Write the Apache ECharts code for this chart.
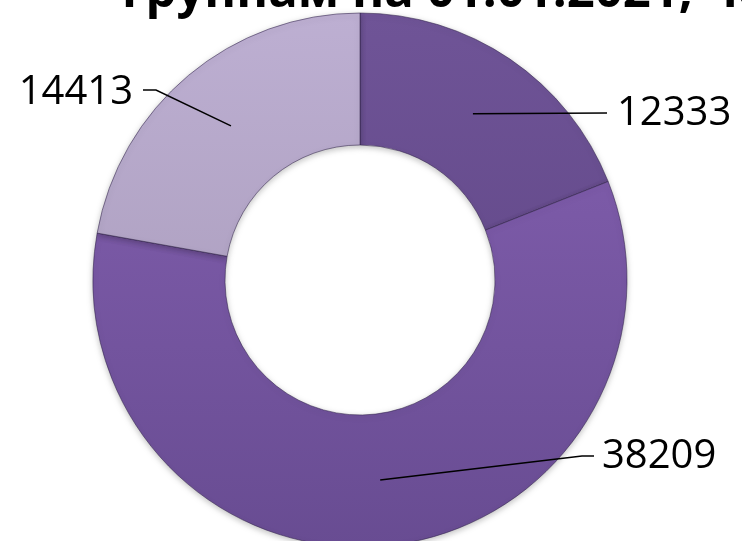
<!DOCTYPE html>
<html>
<head>
<meta charset="utf-8">
<script src="https://cdn.jsdelivr.net/npm/echarts@6/dist/echarts.min.js"></script>
<style>
  html, body { margin: 0; padding: 0; background: #fff; }
  #chart { width: 742px; height: 541px; }
</style>
</head>
<body>
<div id="chart"></div>
<script>
// data
const categories = ['Группа 1', 'Группа 2', 'Группа 3'];
const values = [12333, 38209, 14413];
const titleText = 'группам на 01.01.2021, чел.';

// colours (top -> bottom shading)
const colorsTop = ['#6f5497', '#8561b2', '#bdafd2'];
const colorsBottom = ['#5b4281', '#684c92', '#a396b4'];

const center = [360, 280];
const radii = [135, 267];

// where the labels sit (Excel placed them by hand) + leader line bends
const labelPlaces = [
  { x: 617, y: 114, align: 'left', bend: [607, 113], end: [607, 113] },
  { x: 602, y: 457, align: 'left', bend: [582, 456], end: [594, 456] },
  { x: 133, y: 93, align: 'right', bend: [156, 90], end: [143, 90] }
];

const chart = echarts.init(document.getElementById('chart'));

const grad = (i) => ({
  type: 'linear', x: 0, y: center[1] - radii[1], x2: 0, y2: center[1] + radii[1], global: true,
  colorStops: [
    { offset: 0, color: colorsTop[i] },
    { offset: 1, color: colorsBottom[i] }
  ]
});

chart.setOption({
  animation: false,
  title: {
    text: titleText,
    left: 117,
    top: -36,
    textStyle: { fontFamily: 'Open Sans', fontWeight: 'bold', fontSize: 49, color: '#000' }
  },
  series: [
    {
      type: 'pie',
      center: center,
      radius: radii,
      startAngle: 90,
      data: categories.map((c, i) => ({
        name: c,
        value: values[i],
        itemStyle: { color: grad(i) }
      })),
      itemStyle: {
        borderColor: 'rgba(50,35,75,0.55)',
        borderWidth: 1,
        shadowBlur: 6,
        shadowOffsetY: 2,
        shadowColor: 'rgba(0,0,0,0.25)'
      },
      label: {
        show: true,
        position: 'outside',
        formatter: '{c}',
        fontFamily: 'Open Sans',
        fontSize: 40,
        color: '#000'
      },
      labelLine: { show: false },
      labelLayout: (params) => {
        const p = labelPlaces[params.dataIndex];
        return { x: p.x, y: p.y, align: p.align, verticalAlign: 'middle' };
      }
    }
  ]
});

// leader lines start in the middle of each ring segment (as in Excel)
const pieData = chart.getModel().getSeriesByIndex(0).getData();
const lines = [];
pieData.each((i) => {
  const l = pieData.getItemLayout(i);
  const mid = (l.startAngle + l.endAngle) / 2;
  const r = (l.r + l.r0) / 2;
  const start = [l.cx + r * Math.cos(mid), l.cy + r * Math.sin(mid)];
  const p = labelPlaces[i];
  lines.push({
    type: 'polyline',
    z: 100,
    shape: { points: [start, p.bend, p.end] },
    style: { stroke: '#000', lineWidth: 1.5, fill: null }
  });
});
chart.setOption({ graphic: lines });
</script>
</body>
</html>
